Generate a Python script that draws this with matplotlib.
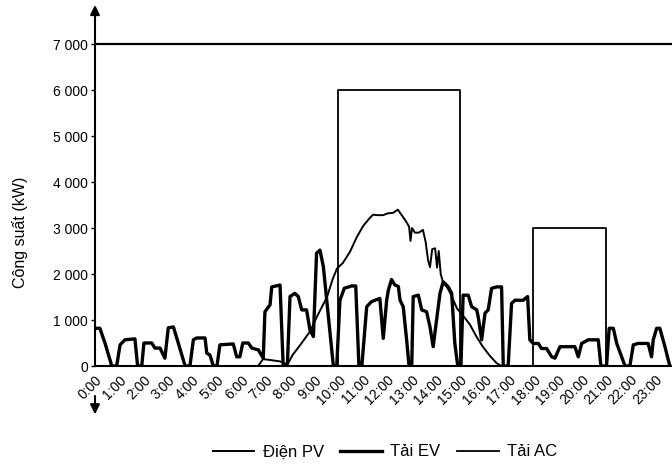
import matplotlib.pyplot as plt

plt.rcParams['font.family'] = ['Liberation Sans', 'DejaVu Sans']

# Thời gian (giờ) và công suất (kW) đọc từ đồ thị
pv_hours = [6.7, 6.9, 7.2, 7.6, 7.9, 8.13, 8.42, 8.83, 9.16, 9.53, 9.77, 9.94,
            10.18, 10.47, 10.75, 11.02, 11.29, 11.42, 11.6, 11.83, 12.03, 12.24,
            12.44, 12.61, 12.77, 12.9, 12.96, 13.02, 13.14, 13.3, 13.47, 13.58,
            13.68, 13.76, 13.85, 13.97, 14.05, 14.12, 14.2, 14.29, 14.45, 14.58,
            14.87, 15.11, 15.4, 15.69, 15.93, 16.22, 16.5, 16.7]
pv_power = [0, 150, 130, 100, 30, 250, 450, 750, 1120, 1500, 1900, 2120,
            2240, 2480, 2800, 3050, 3220, 3290, 3280, 3280, 3320, 3330,
            3400, 3270, 3150, 3030, 2720, 3000, 2900, 2900, 2960, 2700,
            2300, 2150, 2540, 2560, 2140, 2500, 2000, 1830, 1720, 1600,
            1250, 1100, 900, 620, 420, 220, 60, 0]

ev_hours = [0.0, 0.2, 0.41, 0.69, 0.89, 1.03, 1.23, 1.64, 1.75, 1.92, 2.01, 2.33,
            2.46, 2.67, 2.87, 3.01, 3.22, 3.42, 3.70, 3.90, 4.04, 4.18, 4.52,
            4.59, 4.72, 4.86, 5.01, 5.13, 5.68, 5.82, 5.95, 6.07, 6.30, 6.44,
            6.71, 6.91, 6.98, 7.19, 7.26, 7.60, 7.73, 7.90, 8.01, 8.21, 8.35,
            8.49, 8.69, 8.83, 8.97, 9.10, 9.24, 9.38, 9.79, 9.93, 10.06, 10.24,
            10.54, 10.71, 10.84, 10.96, 11.16, 11.36, 11.70, 11.84, 11.98, 12.05,
            12.18, 12.32, 12.46, 12.53, 12.66, 12.80, 12.90, 13.01, 13.07, 13.28,
            13.42, 13.62, 13.76, 13.89, 14.03, 14.17, 14.30, 14.51, 14.65, 14.78,
            14.90, 15.03, 15.12, 15.33, 15.47, 15.68, 15.74, 15.88, 16.02, 16.15,
            16.29, 16.50, 16.70, 16.77, 16.97, 17.11, 17.25, 17.59, 17.77, 17.86,
            18.00, 18.21, 18.34, 18.55, 18.76, 18.89, 19.10, 19.44, 19.71, 19.85,
            19.99, 20.26, 20.67, 20.78, 21.01, 21.12, 21.29, 21.43, 21.77, 21.97,
            22.11, 22.31, 22.72, 22.86, 22.93, 23.07, 23.20, 23.41, 23.61]
ev_power = [820, 820, 500, 0, 0, 460, 570, 590, 0, 0, 500, 500,
            390, 390, 170, 830, 850, 500, 0, 0, 570, 610, 610,
            280, 240, 0, 0, 460, 480, 200, 200, 500, 500, 390,
            350, 170, 1180, 1330, 1720, 1760, 0, 0, 1510, 1580, 1510,
            1220, 1220, 780, 640, 2450, 2520, 2160, 0, 0, 1430, 1690,
            1740, 1740, 0, 0, 1290, 1400, 1470, 600, 1430, 1650,
            1880, 1760, 1730, 1430, 1290, 570, 0, 0, 1510, 1540,
            1220, 1180, 850, 420, 1000, 1580, 1830, 1720, 1580, 490,
            0, 0, 1540, 1540, 1290, 1220, 1070, 570, 1150, 1220,
            1690, 1720, 1720, 0, 0, 1360, 1430, 1430, 1510, 570,
            490, 490, 380, 380, 200, 170, 420, 420, 420, 200,
            490, 570, 570, 0, 0, 820, 820, 490, 0, 0,
            460, 490, 490, 200, 570, 820, 820, 420, 0]

ac_hours = [0, 10, 10, 15, 15, 18, 18, 21, 21, 23.7]
ac_power = [0, 0, 6000, 6000, 0, 0, 3000, 3000, 0, 0]

grid_limit = 7000
hour_labels = ['%d:00' % h for h in range(24)]
y_ticks = [0, 1000, 2000, 3000, 4000, 5000, 6000, 7000]
y_labels = ['0', '1 000', '2 000', '3 000', '4 000', '5 000', '6 000', '7 000']

fig = plt.figure(figsize=(6.72, 4.68), dpi=100)
ax = fig.add_axes([95 / 672, 1 - 366 / 468, 577 / 672, 361 / 468])

ax.plot(pv_hours, pv_power, color='black', lw=1.4, label='Điện PV')
ax.plot(ev_hours, ev_power, color='black', lw=2.4, label='Tải EV')
ax.plot(ac_hours, ac_power, color='black', lw=1.3, label='Tải AC')
ax.axhline(grid_limit, color='black', lw=1.6)

ax.set_xlim(0, 23.7)
ax.set_ylim(0, 7850)

ax.set_xticks(range(24))
ax.set_xticklabels(hour_labels, rotation=45, ha='right', va='top',
                   rotation_mode='anchor', fontsize=10)
ax.tick_params(axis='x', length=0, pad=5)
ax.set_yticks(y_ticks)
ax.set_yticklabels(y_labels, fontsize=10)
ax.tick_params(axis='y', length=3, width=1, pad=2)

ax.set_ylabel('Công suất (kW)', fontsize=11.5)
ax.yaxis.set_label_coords(-0.116, 0.37)

for side in ['top', 'right', 'left']:
    ax.spines[side].set_visible(False)
ax.spines['bottom'].set_linewidth(1.5)

# mũi tên trục tung
arrow = dict(arrowstyle='-|>', color='black', lw=1.5, mutation_scale=14,
             shrinkA=0, shrinkB=0)
ax.annotate('', xy=(0, 7850), xytext=(0, 0), arrowprops=arrow,
            annotation_clip=False)
ax.annotate('', xy=(0, -1050), xytext=(0, -650), arrowprops=arrow,
            annotation_clip=False)

fig.legend(loc='center', bbox_to_anchor=(385 / 672, 1 - 452 / 468), ncol=3,
           frameon=False, fontsize=12, handlelength=2.5, columnspacing=1.0,
           handletextpad=0.5)

fig.savefig('out.png', dpi=100)
